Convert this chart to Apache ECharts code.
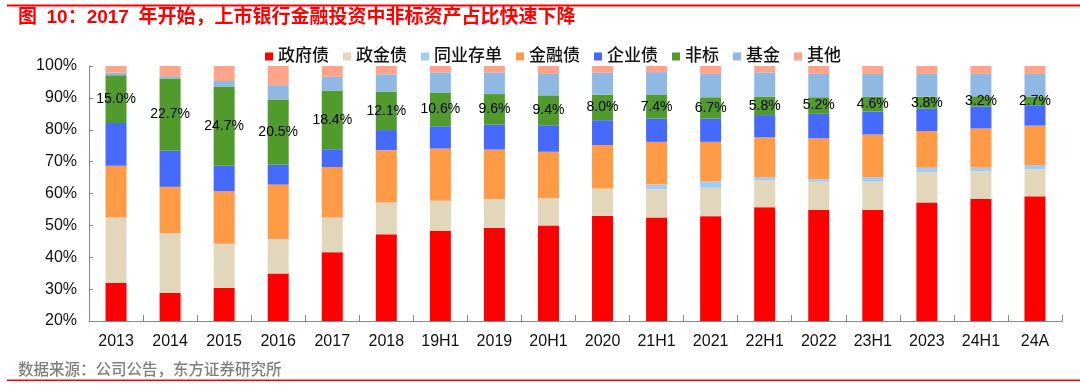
<!DOCTYPE html>
<html><head><meta charset="utf-8">
<script src="https://cdn.jsdelivr.net/npm/echarts@6/dist/echarts.min.js"></script>
<style>html,body{margin:0;padding:0;background:#fff}#c{width:1080px;height:388px}</style>
</head><body><div id="c"></div>
<script>
const categories = ['2013','2014','2015','2016','2017','2018','19H1','2019','20H1','2020','21H1','2021','22H1','2022','23H1','2023','24H1','24A'];
const govBond   = [32.0,28.8,30.4,34.9,41.6,47.2,48.3,49.2,50.0,53.0,52.5,52.9,55.7,54.9,54.9,57.2,58.3,59.1];
const policyBond= [20.5,18.7,13.8,10.8,10.9,10.0,9.4,9.1,8.5,8.6,8.9,8.9,8.5,8.8,8.8,9.5,8.7,8.5];
const ncd       = [0,0,0,0,0,0,0,0,0,0,1.4,2.0,0.9,0.8,1.4,1.4,1.1,1.3];
const finBond   = [16.2,14.6,16.5,17.1,15.8,16.4,16.4,15.5,14.6,13.6,13.4,12.4,12.5,12.8,13.4,11.5,12.3,12.4];
const corpBond  = [13.4,11.3,8.0,6.2,5.6,6.3,7.0,7.8,8.3,7.8,7.3,7.3,7.0,7.7,7.2,7.0,6.9,6.4];
const nonStd    = [15.0,22.7,24.7,20.5,18.4,12.1,10.6,9.6,9.4,8.0,7.4,6.7,5.8,5.2,4.6,3.8,3.2,2.7];
const fund      = [0.8,0.7,1.9,4.5,4.3,5.4,6.3,6.7,6.7,6.9,7.2,7.3,7.6,7.3,7.2,7.1,7.0,7.1];
const other     = [2.1,3.2,4.7,6.0,3.4,2.6,2.0,2.1,2.5,2.1,1.9,2.5,2.0,2.5,2.5,2.5,2.5,2.5];
const yTicks = [20,30,40,50,60,70,80,90,100];

const names = ['政府债','政金债','同业存单','金融债','企业债','非标','基金','其他'];
const colors = ['#FF0000','#E3D7BB','#A0CCF8','#FF9B47','#4669FE','#509B2C','#8FB9E3','#FFA48A'];
const datas = [govBond,policyBond,ncd,finBond,corpBond,nonStd,fund,other];
const FF = '"Liberation Sans", Arial, "Noto Sans CJK SC", sans-serif';

const series = names.map((n,i)=>({
  name:n, type:'bar', stack:'all', barWidth:21, data:datas[i],
  itemStyle:{color:colors[i]},
  label: n==='非标' ? {show:true, position:'inside', color:'#000', fontSize:14, fontFamily:FF,
     formatter:p=>p.value.toFixed(1)+'%'} : {show:false},
  emphasis:{disabled:true}, animation:false
}));

const chart = echarts.init(document.getElementById('c'));
chart.setOption({
  animation:false,
  textStyle:{fontFamily:FF},
  legend:{left:260, top:43, itemWidth:8, itemHeight:8, itemGap:14, icon:'rect',
    textStyle:{fontSize:17, color:'#111', fontWeight:500, fontFamily:FF}, data:names},
  grid:{left:89, right:18, top:66, bottom:67},
  xAxis:{type:'category', data:categories,
    axisLine:{lineStyle:{color:'#888', width:1}},
    axisTick:{show:true, inside:true, length:6, lineStyle:{color:'#888'}},
    axisLabel:{color:'#111', fontSize:16, margin:13, fontFamily:FF}},
  yAxis:{type:'value', min:yTicks[0], max:yTicks[yTicks.length-1], interval:10,
    axisLine:{show:true, lineStyle:{color:'#888'}},
    axisTick:{show:true, inside:true, length:4, lineStyle:{color:'#888'}},
    splitLine:{show:false},
    axisLabel:{color:'#111', fontSize:16, margin:12, formatter:'{value}%', fontFamily:FF}},
  series:series,
  graphic:[
    {type:'rect', shape:{x:7, y:4.5, width:1073, height:2}, style:{fill:'#FF0000'}},
    {type:'text', x:18, y:18, style:{text:'图\u200210：2017\u2002年开始，上市银行金融投资中非标资产占比快速下降',
      fill:'#FF0000', font:'bold 19px '+FF, textVerticalAlign:'middle'}},
    {type:'text', x:18, y:371, style:{text:'数据来源：公司公告，东方证券研究所', fill:'#7F7F7F',
      font:'500 15.5px '+FF, textVerticalAlign:'middle'}},
    {type:'rect', shape:{x:7, y:379.5, width:1073, height:1.5}, style:{fill:'#FF0000'}}
  ]
});
</script></body></html>
